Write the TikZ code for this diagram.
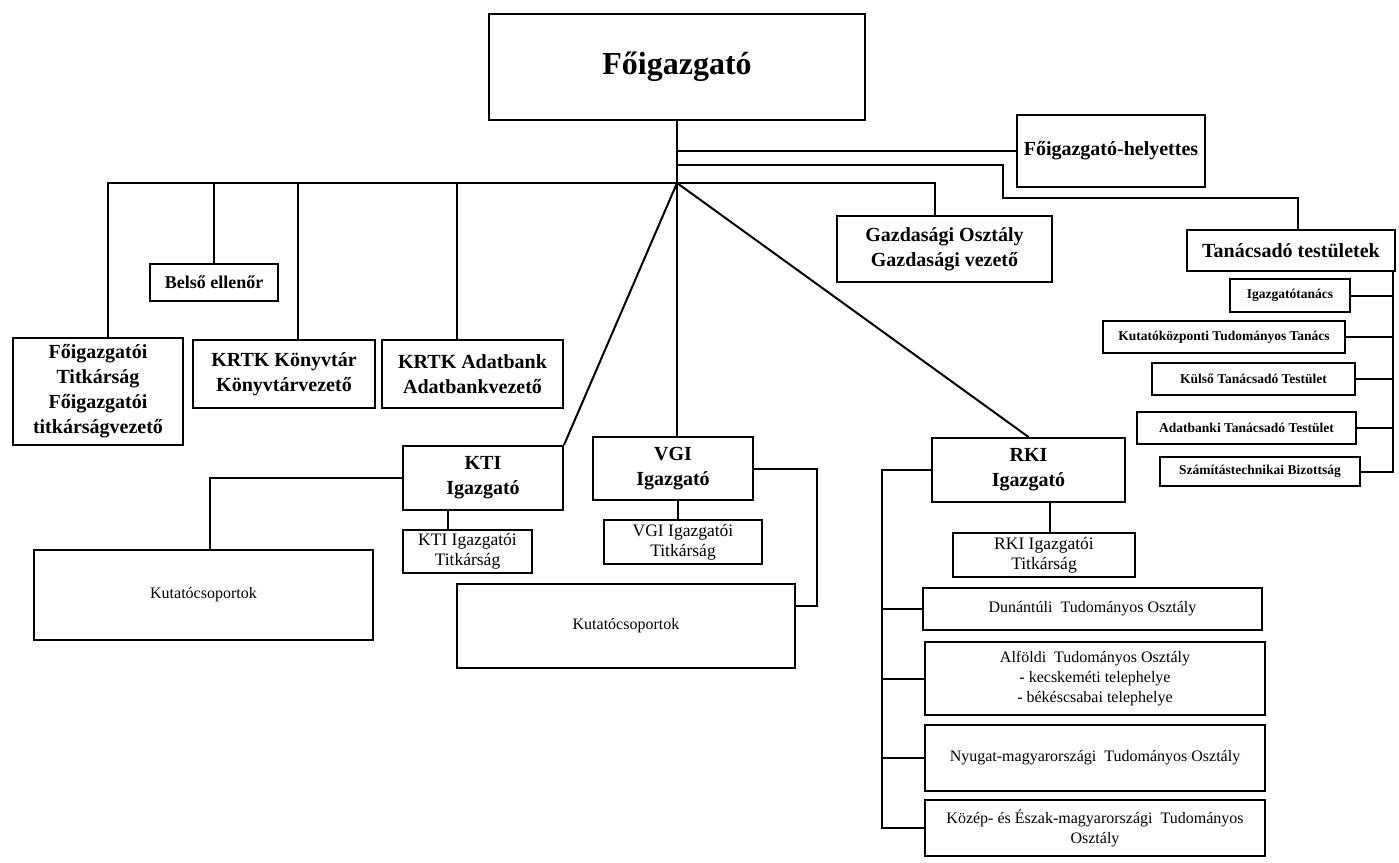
\documentclass[tikz,border=0pt]{standalone}
\usepackage{fontspec}
\setmainfont{Liberation Serif}
\tikzset{dims/.style n args={2}{minimum width=#1pt,minimum height=#2pt}}
\begin{document}
\begin{tikzpicture}[x=1pt,y=-1pt]

\tikzset{unit/.style = {shape=rectangle,draw,line width=2pt,inner sep=1pt,align=center}}
\tikzset{unitbold/.style = {unit,font=\fontsize{20}{25}\selectfont\bfseries}}
\tikzset{unitsmall/.style = {unit,font=\fontsize{13.5}{16}\selectfont\bfseries}}
\tikzset{unitplain/.style = {unit,font=\fontsize{16}{20}\selectfont}}
\tikzset{unitsecr/.style = {unit,font=\fontsize{17.5}{20}\selectfont}}
\tikzset{edge/.style = {line width=2pt}}
\useasboundingbox (0,0) rectangle (1399,862);
% top level
\node[unit,dims={376}{106},font=\fontsize{32}{38}\selectfont\bfseries] (foig) at (677,67) {Főigazgató};
\node[unitbold,dims={188}{72}] (helyettes) at (1111,151) {Főigazgató-helyettes};
\node[unitbold,dims={215}{66}] (gazd) at (944.5,249) {Gazdasági Osztály\\Gazdasági vezető};
\node[unitbold,dims={208}{41}] (tanacs) at (1291,250.5) {Tanácsadó testületek};
% advisory bodies
\node[unitsmall,dims={120}{33}] (igt) at (1290,295.5) {Igazgatótanács};
\node[unitsmall,dims={242}{32}] (kttan) at (1224,337) {Kutatóközponti Tudományos Tanács};
\node[unitsmall,dims={203}{32}] (kulso) at (1253.5,379) {Külső Tanácsadó Testület};
\node[unitsmall,dims={219}{32}] (adatt) at (1246.5,428) {Adatbanki Tanácsadó Testület};
\node[unitsmall,dims={200}{29}] (szamt) at (1260,471.5) {Számítástechnikai Bizottság};
% left row
\node[unitbold,dims={128}{37},font=\fontsize{18}{22}\selectfont\bfseries] (belso) at (214,282.5) {Belső ellenőr};
\node[unitbold,dims={170}{107}] (titk) at (98,391.5) {Főigazgatói\\Titkárság\\Főigazgatói\\titkárságvezető};
\node[unitbold,dims={182}{68}] (konyv) at (284,374) {KRTK Könyvtár\\Könyvtárvezető};
\node[unitbold,dims={181}{68}] (adatb) at (472.5,374) {KRTK Adatbank\\Adatbankvezető};
% institutes
\node[unitbold,dims={160}{64}] (kti) at (483,478) {KTI\\Igazgató};
\node[unitsecr,dims={129}{43}] (ktitit) at (467.5,551.5) {KTI Igazgatói\\Titkárság};
\node[unitplain,dims={339}{90}] (kutl) at (203.5,595) {Kutatócsoportok};
\node[unitbold,dims={160}{63}] (vgi) at (673,468.5) {VGI\\Igazgató};
\node[unitsecr,dims={158}{44}] (vgitit) at (683,542) {VGI Igazgatói\\Titkárság};
\node[unitplain,dims={338}{84}] (kutc) at (626,626) {Kutatócsoportok};
\node[unitbold,dims={193}{64}] (rki) at (1028.5,470) {RKI\\Igazgató};
\node[unitsecr,dims={182}{44}] (rkitit) at (1044,555) {RKI Igazgatói\\Titkárság};
\node[unitplain,dims={339}{42}] (duna) at (1092.5,609) {Dunántúli\ \ Tudományos Osztály};
\node[unitplain,dims={340}{73}] (alfold) at (1095,678.5) {Alföldi\ \ Tudományos Osztály\\- kecskeméti telephelye\\- békéscsabai telephelye};
\node[unitplain,dims={340}{66}] (nyugat) at (1095,758) {Nyugat-magyarországi\ \ Tudományos Osztály};
\node[unitplain,dims={340}{56}] (kozep) at (1095,828) {Közép- és Észak-magyarországi\ \ Tudományos\\Osztály};
% joints
\coordinate (jn) at (677,183);
\coordinate (tjoint) at (677,165);
\coordinate (tbend) at (1003,198);
\coordinate (vbend) at (817,606);
\coordinate (rbus) at (882,470);
\coordinate (tbus) at ([xshift=-3pt]tanacs.south east);
% edges
\draw[edge] (foig.south) -- (jn);
\draw[edge] (foig.south |- helyettes.west) -- (helyettes.west);
\draw[edge] (tjoint) -| (tbend) -| ([xshift=7pt]tanacs.north);
\draw[edge] ([xshift=10pt]titk.north) |- (jn);
\draw[edge] (belso.north) |- (jn);
\draw[edge] ([xshift=14pt]konyv.north) |- (jn);
\draw[edge] ([xshift=-15.5pt]adatb.north) |- (jn);
\draw[edge] (jn) -| ([xshift=-9.5pt]gazd.north);
\draw[edge] (jn) -- (kti.north east);
\draw[edge] (jn) -- (jn |- vgi.north);
\draw[edge] (jn) -- (rki.north);
\draw[edge] (tbus) |- (szamt.east);
\foreach \n in {igt,kttan,kulso,adatt}
  \draw[edge] (\n.east) -- (\n.east -| tbus);
\draw[edge] (kti.west) -| ([xshift=6.5pt]kutl.north);
\draw[edge] ([xshift=-20pt]ktitit.north) -- ([xshift=-20pt]ktitit.north |- kti.south);
\draw[edge] ([xshift=-5pt]vgitit.north) -- ([xshift=-5pt]vgitit.north |- vgi.south);
\draw[edge] (vgi.east) -| (vbend) -- (vbend -| kutc.east);
\draw[edge] ([xshift=6pt]rkitit.north) -- ([xshift=6pt]rkitit.north |- rki.south);
\draw[edge] (rki.west) -| (rbus |- kozep.west) -- (kozep.west);
\foreach \n in {duna,alfold,nyugat}
  \draw[edge] (rbus |- \n.west) -- (\n.west);
\end{tikzpicture}
\end{document}
